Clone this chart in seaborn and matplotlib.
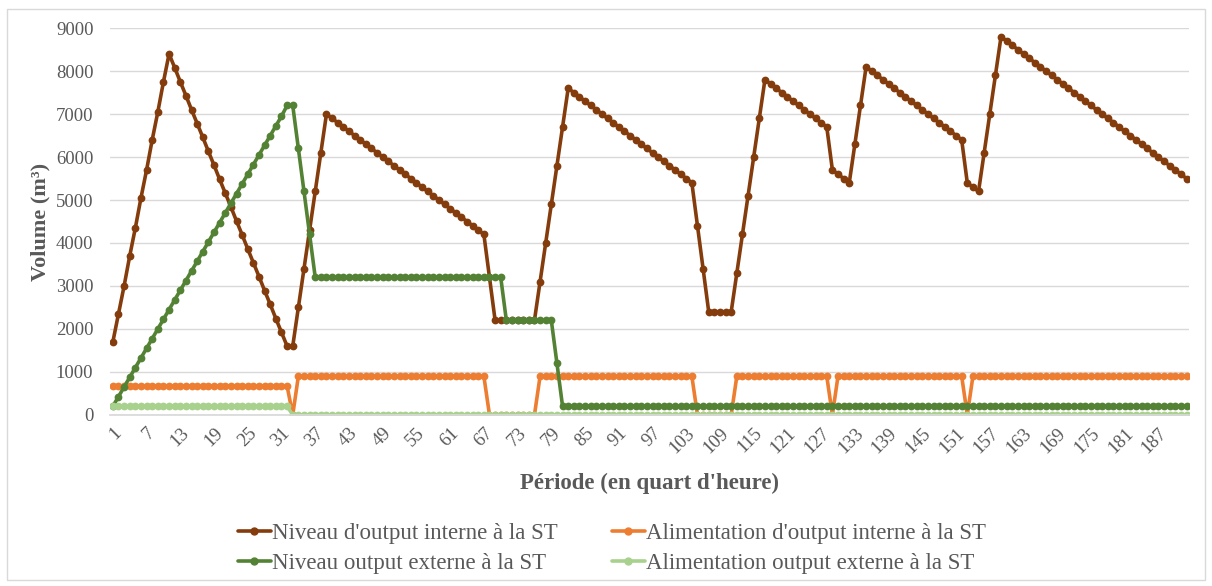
import pandas as pd
import matplotlib.pyplot as plt
import seaborn as sns
from matplotlib.lines import Line2D
from matplotlib.patches import Rectangle

# Période 1..192 (quarts d'heure)
periode = list(range(1, 193))

niveau_interne = [
    1700, 2350, 3000, 3700, 4350, 5050, 5700, 6400, 7050, 7750, 8400,
    8080, 7750, 7430, 7100, 6780, 6460, 6130, 5810, 5480, 5160, 4840,
    4510, 4190, 3860, 3540, 3220, 2890, 2570, 2240, 1920, 1600, 1600,
    2500, 3400, 4300, 5200, 6100, 7000,
    6900, 6800, 6700, 6600, 6500, 6400, 6300, 6200, 6100, 6000, 5900, 5800, 5700, 5600,
    5500, 5400, 5300, 5200, 5100, 5000, 4900, 4800, 4700, 4600, 4500, 4400, 4300, 4200,
    3200, 2200, 2200, 2200, 2200, 2200, 2200, 2200, 2200,
    3100, 4000, 4900, 5800, 6700, 7600,
    7500, 7400, 7300, 7200, 7100, 7000, 6900, 6800, 6700, 6600, 6500,
    6400, 6300, 6200, 6100, 6000, 5900, 5800, 5700, 5600, 5500, 5400,
    4400, 3400, 2400, 2400, 2400, 2400, 2400,
    3300, 4200, 5100, 6000, 6900, 7800,
    7700, 7600, 7500, 7400, 7300, 7200, 7100, 7000, 6900, 6800, 6700,
    5700, 5600, 5500, 5400, 6300, 7200, 8100,
    8000, 7900, 7800, 7700, 7600, 7500, 7400, 7300, 7200, 7100, 7000, 6900, 6800, 6700, 6600, 6500, 6400,
    5400, 5300, 5200, 6100, 7000, 7900, 8800,
    8700, 8600, 8500, 8400, 8300, 8200, 8100, 8000, 7900, 7800, 7700,
    7600, 7500, 7400, 7300, 7200, 7100, 7000, 6900, 6800, 6700, 6600,
    6500, 6400, 6300, 6200, 6100, 6000, 5900, 5800, 5700, 5600, 5500,
]

alim_interne = [
    670, 670, 670, 670, 670, 670, 670, 670, 670, 670, 670, 670, 670, 670, 670, 670,
    670, 670, 670, 670, 670, 670, 670, 670, 670, 670, 670, 670, 670, 670, 670, 670,
    0,
    900, 900, 900, 900, 900, 900, 900, 900, 900, 900, 900, 900, 900, 900, 900, 900,
    900, 900, 900, 900, 900, 900, 900, 900, 900, 900, 900, 900, 900, 900, 900, 900,
    900, 900,
    0, 0, 0, 0, 0, 0, 0, 0, 0,
    900, 900, 900, 900, 900, 900, 900, 900, 900, 900, 900, 900, 900, 900, 900, 900,
    900, 900, 900, 900, 900, 900, 900, 900, 900, 900, 900, 900,
    0, 0, 0, 0, 0, 0, 0,
    900, 900, 900, 900, 900, 900, 900, 900, 900, 900, 900, 900, 900, 900, 900, 900,
    900,
    0,
    900, 900, 900, 900, 900, 900, 900, 900, 900, 900, 900, 900, 900, 900, 900, 900,
    900, 900, 900, 900, 900, 900, 900,
    0,
    900, 900, 900, 900, 900, 900, 900, 900, 900, 900, 900, 900, 900, 900, 900, 900,
    900, 900, 900, 900, 900, 900, 900, 900, 900, 900, 900, 900, 900, 900, 900, 900,
    900, 900, 900, 900, 900, 900, 900,
]

niveau_externe = [
    200, 425, 650, 875, 1100, 1325, 1550, 1775, 2000, 2225, 2450, 2675, 2900, 3125, 3350, 3575,
    3800, 4025, 4250, 4475, 4700, 4925, 5150, 5375, 5600, 5825, 6050, 6275, 6500, 6725, 6950, 7200,
    7200, 6200, 5200, 4200,
    3200, 3200, 3200, 3200, 3200, 3200, 3200, 3200, 3200, 3200, 3200, 3200, 3200, 3200, 3200, 3200,
    3200, 3200, 3200, 3200, 3200, 3200, 3200, 3200, 3200, 3200, 3200, 3200, 3200, 3200, 3200, 3200,
    3200, 3200,
    2200, 2200, 2200, 2200, 2200, 2200, 2200, 2200, 2200,
    1200,
    200, 200, 200, 200, 200, 200, 200, 200, 200, 200, 200, 200, 200, 200, 200, 200,
    200, 200, 200, 200, 200, 200, 200, 200, 200, 200, 200, 200, 200, 200, 200, 200,
    200, 200, 200, 200, 200, 200, 200, 200, 200, 200, 200, 200, 200, 200, 200, 200,
    200, 200, 200, 200, 200, 200, 200, 200, 200, 200, 200, 200, 200, 200, 200, 200,
    200, 200, 200, 200, 200, 200, 200, 200, 200, 200, 200, 200, 200, 200, 200, 200,
    200, 200, 200, 200, 200, 200, 200, 200, 200, 200, 200, 200, 200, 200, 200, 200,
    200, 200, 200, 200, 200, 200, 200, 200, 200, 200, 200, 200, 200, 200, 200, 200,
]

alim_externe = [
    200, 200, 200, 200, 200, 200, 200, 200, 200, 200, 200, 200, 200, 200, 200, 200,
    200, 200, 200, 200, 200, 200, 200, 200, 200, 200, 200, 200, 200, 200, 200, 200,
    0, 0, 0, 0, 0, 0, 0, 0, 0, 0, 0, 0, 0, 0, 0, 0,
    0, 0, 0, 0, 0, 0, 0, 0, 0, 0, 0, 0, 0, 0, 0, 0,
    0, 0, 0, 0, 0, 0, 0, 0, 0, 0, 0, 0, 0, 0, 0, 0,
    0, 0, 0, 0, 0, 0, 0, 0, 0, 0, 0, 0, 0, 0, 0, 0,
    0, 0, 0, 0, 0, 0, 0, 0, 0, 0, 0, 0, 0, 0, 0, 0,
    0, 0, 0, 0, 0, 0, 0, 0, 0, 0, 0, 0, 0, 0, 0, 0,
    0, 0, 0, 0, 0, 0, 0, 0, 0, 0, 0, 0, 0, 0, 0, 0,
    0, 0, 0, 0, 0, 0, 0, 0, 0, 0, 0, 0, 0, 0, 0, 0,
    0, 0, 0, 0, 0, 0, 0, 0, 0, 0, 0, 0, 0, 0, 0, 0,
    0, 0, 0, 0, 0, 0, 0, 0, 0, 0, 0, 0, 0, 0, 0, 0,
]

x_ticks = list(range(1, 193, 6))

noms = [
    "Niveau d'output interne à la ST",
    "Alimentation d'output interne à la ST",
    "Niveau output externe à la ST",
    "Alimentation output externe à la ST",
]
couleurs = ['#843C0C', '#ED7D31', '#548235', '#A9D18E']

for s in (niveau_interne, alim_interne, niveau_externe, alim_externe):
    assert len(s) == len(periode), len(s)

df = pd.DataFrame({'Période': periode,
                   noms[0]: niveau_interne,
                   noms[1]: alim_interne,
                   noms[2]: niveau_externe,
                   noms[3]: alim_externe})
long_df = df.melt(id_vars='Période', var_name='Série', value_name='Volume')

sns.set_theme(style='white')
plt.rcParams['font.family'] = ['Liberation Serif', 'DejaVu Serif']
gris = '#595959'

fig = plt.figure(figsize=(12.12, 5.86), dpi=100)
ax = fig.add_axes([0.0908, 0.292, 0.8905, 0.660])

for nom, c in zip(noms, couleurs):
    sns.lineplot(data=long_df[long_df['Série'] == nom], x='Période', y='Volume',
                 color=c, linewidth=2.6, marker='o', markersize=5.6,
                 markeredgewidth=0, ax=ax, legend=False)

ax.set_xlim(0.5, 192.5)
ax.set_ylim(0, 9000)
ax.set_yticks(range(0, 9001, 1000))
ax.grid(axis='y', color='#D9D9D9', linewidth=1)
ax.grid(axis='x', visible=False)
ax.set_axisbelow(True)
for side in ['top', 'right', 'left']:
    ax.spines[side].set_visible(False)
ax.spines['bottom'].set_color('#D9D9D9')

ax.set_xticks(x_ticks)
ax.set_xticklabels([str(t) for t in x_ticks], rotation=45, ha='right',
                   rotation_mode='anchor')
ax.tick_params(axis='x', length=0, pad=7, labelsize=13.5, labelcolor=gris)
ax.tick_params(axis='y', length=0, pad=12, labelsize=13.5, labelcolor=gris)

ax.set_xlabel("Période (en quart d'heure)", fontsize=16.5, fontweight='bold',
              color=gris, labelpad=12)
ax.set_ylabel('Volume (m³)', fontsize=16, fontweight='bold', color=gris,
              labelpad=4)

handles = [Line2D([0], [0], color=c, linewidth=2.6, marker='o', markersize=5)
           for c in couleurs]
ordre = [0, 2, 1, 3]
fig.legend([handles[i] for i in ordre], [noms[i] for i in ordre],
           loc='center', bbox_to_anchor=(0.505, 0.064), ncol=2, frameon=False,
           fontsize=16.5, labelcolor=gris, handlelength=1.4, handletextpad=0.05,
           columnspacing=2.4, labelspacing=0.4)

fig.patches.append(Rectangle((0.006, 0.01), 0.988, 0.975, transform=fig.transFigure,
                             fill=False, edgecolor='#D9D9D9', linewidth=1))

plt.savefig('out.png', dpi=100)
plt.close()
